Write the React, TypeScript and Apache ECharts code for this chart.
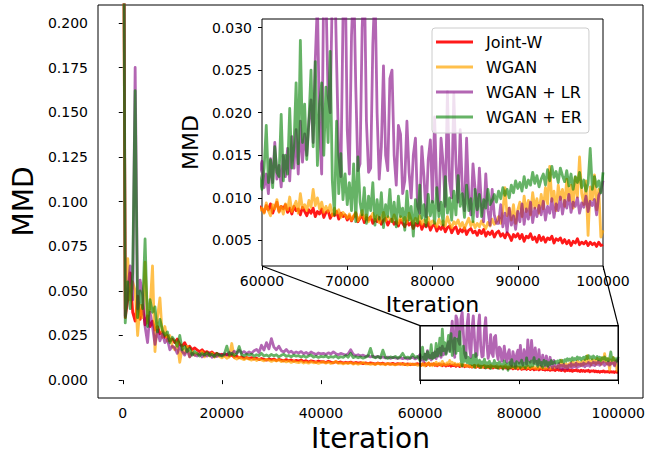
import React, { useEffect, useRef } from "react";
import * as echarts from "echarts";

// Iteration grid: 0..60000 every 500, then 60250..100000 every 250
const ITER_EARLY_STEP = 500;
const ITER_LATE_START = 60250;
const ITER_LATE_STEP = 250;

const seriesNames = ["Joint-W", "WGAN", "WGAN + LR", "WGAN + ER"];
const seriesColors = [
  "rgba(255,0,0,0.9)",
  "rgba(255,165,0,0.7)",
  "rgba(128,0,128,0.6)",
  "rgba(0,128,0,0.6)",
];

const jointWEarly = [
  0.40, 0.035, 0.045, 0.060, 0.038, 0.033, 0.047, 0.034, 0.042, 0.031, 0.036, 0.030, 0.033, 0.028, 0.030, 0.026, 0.027, 0.024, 0.025, 0.022, 0.023,
  0.021, 0.023, 0.020, 0.019, 0.021, 0.018, 0.019, 0.017, 0.018, 0.017,
  0.016, 0.017, 0.0155, 0.016, 0.015, 0.0158, 0.0145, 0.015, 0.014, 0.0145,
  0.0138, 0.0145, 0.0135, 0.014, 0.0128, 0.0135, 0.0125, 0.013, 0.0122, 0.0127,
  0.0120, 0.0126, 0.0118, 0.0123, 0.0115, 0.0121, 0.0117, 0.0112, 0.0119, 0.0114,
  0.0118, 0.0110, 0.0116, 0.0112, 0.0108, 0.0115, 0.0109, 0.0113, 0.0106, 0.0111,
  0.0107, 0.0113, 0.0104, 0.0109, 0.0102, 0.0108, 0.0105, 0.0100, 0.0107, 0.0103,
  0.0104, 0.0099, 0.0106, 0.0101, 0.0097, 0.0103, 0.0098, 0.0102, 0.0096, 0.0100,
  0.0097, 0.0101, 0.0094, 0.0099, 0.0095, 0.0098, 0.0092, 0.0097, 0.0093, 0.0096,
  0.0094, 0.0090, 0.0096, 0.0091, 0.0095, 0.0089, 0.0093, 0.0090, 0.0094, 0.0088,
  0.0092, 0.0089, 0.0093, 0.0087, 0.0091, 0.0086, 0.0090, 0.0088, 0.0092, 0.0087,
];
const jointWLate = [
  0.0083, 0.0091, 0.0086, 0.0093, 0.0082, 0.0089, 0.0095, 0.0084, 0.0090, 0.0087,
  0.0092, 0.0083, 0.0088, 0.0081, 0.0090, 0.0085, 0.0087, 0.0080, 0.0089, 0.0084,
  0.0079, 0.0086, 0.0082, 0.0088, 0.0078, 0.0084, 0.0081, 0.0087, 0.0077, 0.0083,
  0.0085, 0.0076, 0.0081, 0.0079, 0.0084, 0.0075, 0.0082, 0.0078, 0.0080, 0.0074,
  0.0079, 0.0073, 0.0078, 0.0082, 0.0072, 0.0076, 0.0080, 0.0071, 0.0077, 0.0074,
  0.0078, 0.0070, 0.0075, 0.0072, 0.0077, 0.0069, 0.0074, 0.0076, 0.0068, 0.0073,
  0.0075, 0.0069, 0.0072, 0.0067, 0.0074, 0.0070, 0.0066, 0.0073, 0.0068, 0.0071,
  0.0064, 0.0070, 0.0067, 0.0072, 0.0063, 0.0069, 0.0066, 0.0071, 0.0062, 0.0067,
  0.0069, 0.0061, 0.0066, 0.0063, 0.0068, 0.0060, 0.0065, 0.0067, 0.0059, 0.0064,
  0.0066, 0.0058, 0.0063, 0.0060, 0.0065, 0.0057, 0.0062, 0.0064, 0.0059, 0.0061,
  0.0056, 0.0062, 0.0058, 0.0063, 0.0055, 0.0060, 0.0057, 0.0061, 0.0054, 0.0059,
  0.0061, 0.0055, 0.0058, 0.0053, 0.0059, 0.0056, 0.0050, 0.0057, 0.0054, 0.0058,
  0.0052, 0.0057, 0.0049, 0.0055, 0.0053, 0.0058, 0.0051, 0.0054, 0.0048, 0.0056,
  0.0050, 0.0054, 0.0048, 0.0053, 0.0051, 0.0055, 0.0047, 0.0052, 0.0050, 0.0053,
  0.0047, 0.0051, 0.0046, 0.0050, 0.0044, 0.0049, 0.0047, 0.0052, 0.0045, 0.0048,
  0.0046, 0.0049, 0.0044, 0.0048, 0.0045, 0.0047, 0.0043, 0.0048, 0.0044, 0.0045,
];

const wganEarly = [
  0.38, 0.040, 0.068, 0.045, 0.055, 0.050, 0.025, 0.042, 0.035, 0.066, 0.032, 0.040, 0.064, 0.016, 0.035, 0.046, 0.024, 0.030, 0.022, 0.025, 0.019,
  0.017, 0.021, 0.010, 0.018, 0.015, 0.019, 0.013, 0.016, 0.014, 0.015,
  0.0145, 0.016, 0.013, 0.0148, 0.0135, 0.0152, 0.0128, 0.014, 0.0132, 0.0125,
  0.0135, 0.0122, 0.0130, 0.0205, 0.0125, 0.0118, 0.0128, 0.0120, 0.0115, 0.0124,
  0.0117, 0.0112, 0.0120, 0.0110, 0.0118, 0.0113, 0.0108, 0.0116, 0.0111, 0.0105,
  0.0112, 0.0107, 0.0114, 0.0104, 0.0109, 0.0102, 0.0108, 0.0099, 0.0106, 0.0101,
  0.0098, 0.0104, 0.0096, 0.0101, 0.0095, 0.0103, 0.0097, 0.0100, 0.0094, 0.0099,
  0.0102, 0.0095, 0.0100, 0.0093, 0.0098, 0.0105, 0.0094, 0.0097, 0.0091, 0.0096,
  0.0093, 0.0098, 0.0090, 0.0095, 0.0089, 0.0094, 0.0099, 0.0091, 0.0093, 0.0088,
  0.0092, 0.0087, 0.0094, 0.0089, 0.0091, 0.0086, 0.0093, 0.0088, 0.0090, 0.0085,
  0.0089, 0.0093, 0.0086, 0.0091, 0.0084, 0.0092, 0.0087, 0.0090, 0.0083, 0.0088,
];
const wganLate = [
  0.0082, 0.0094, 0.0085, 0.0079, 0.0092, 0.0087, 0.0098, 0.0083, 0.0090, 0.0081,
  0.0093, 0.0086, 0.0101, 0.0084, 0.0090, 0.0096, 0.0082, 0.0105, 0.0088, 0.0092,
  0.0085, 0.0097, 0.0089, 0.0110, 0.0091, 0.0100, 0.0087, 0.0095, 0.0083, 0.0090,
  0.0084, 0.0092, 0.0079, 0.0088, 0.0082, 0.0086, 0.0077, 0.0083, 0.0080, 0.0076,
  0.0081, 0.0074, 0.0079, 0.0083, 0.0073, 0.0078, 0.0085, 0.0075, 0.0080, 0.0072,
  0.0077, 0.0082, 0.0074, 0.0079, 0.0071, 0.0076, 0.0083, 0.0073, 0.0078, 0.0075,
  0.0072, 0.0080, 0.0074, 0.0070, 0.0078, 0.0073, 0.0077, 0.0071, 0.0082, 0.0074,
  0.0070, 0.0076, 0.0072, 0.0079, 0.0069, 0.0074, 0.0071, 0.0077, 0.0068, 0.0073,
  0.0071, 0.0066, 0.0075, 0.0069, 0.0073, 0.0067, 0.0078, 0.0070, 0.0065, 0.0072,
  0.0069, 0.0074, 0.0066, 0.0071, 0.0064, 0.0070, 0.0076, 0.0067, 0.0072, 0.0065,
  0.0070, 0.0066, 0.0073, 0.0068, 0.0064, 0.0071, 0.0067, 0.0075, 0.0069, 0.0072,
  0.0078, 0.0070, 0.0084, 0.0112, 0.0079, 0.0088, 0.0074, 0.0092, 0.0070, 0.0086,
  0.0095, 0.0078, 0.0102, 0.0084, 0.0097, 0.0080, 0.0106, 0.0088, 0.0099, 0.0082,
  0.0104, 0.0087, 0.0112, 0.0093, 0.0137, 0.0096, 0.0108, 0.0085, 0.0115, 0.0098,
  0.0110, 0.0090, 0.0122, 0.0097, 0.0115, 0.0088, 0.0124, 0.0101, 0.0148, 0.0105,
  0.0092, 0.0120, 0.0056, 0.0113, 0.0098, 0.0127, 0.0086, 0.0110, 0.0054, 0.0062,
];

const wganLrEarly = [
  0.45, 0.036, 0.050, 0.064, 0.045, 0.175, 0.040, 0.056, 0.048, 0.030, 0.021, 0.038, 0.030, 0.020, 0.028, 0.022, 0.026, 0.021, 0.023, 0.017, 0.019,
  0.018, 0.015, 0.019, 0.016, 0.014, 0.017, 0.013, 0.015, 0.014, 0.0135,
  0.015, 0.013, 0.0145, 0.0135, 0.015, 0.0128, 0.014, 0.0132, 0.0145, 0.0138,
  0.0148, 0.0140, 0.0155, 0.0145, 0.0162, 0.0150, 0.0168, 0.0152, 0.0160, 0.0148,
  0.0158, 0.0150, 0.0165, 0.0172, 0.0155, 0.0195, 0.0168, 0.0210, 0.0175, 0.0232,
  0.0185, 0.0170, 0.0190, 0.0165, 0.0158, 0.0172, 0.0155, 0.0162, 0.0150, 0.0158,
  0.0152, 0.0160, 0.0148, 0.0155, 0.0145, 0.0158, 0.0150, 0.0143, 0.0152, 0.0147,
  0.0150, 0.0144, 0.0153, 0.0146, 0.0158, 0.0148, 0.0142, 0.0150, 0.0145, 0.0140,
  0.0148, 0.0170, 0.0145, 0.0138, 0.0142, 0.0135, 0.0140, 0.0132, 0.0137, 0.0130,
  0.0134, 0.0128, 0.0133, 0.0126, 0.0130, 0.0124, 0.0129, 0.0122, 0.0127, 0.0125,
  0.0121, 0.0126, 0.0120, 0.0124, 0.0118, 0.0123, 0.0128, 0.0119, 0.0125, 0.0143,
];
const wganLrLate = [
  0.0112, 0.0128, 0.0105, 0.0146, 0.0118, 0.0165, 0.0122, 0.0138, 0.0113, 0.0150,
  0.0125, 0.0158, 0.0120, 0.0172, 0.0135, 0.0180, 0.0128, 0.0190, 0.0142, 0.0175,
  0.0150, 0.0190, 0.0215, 0.0165, 0.0262, 0.0330, 0.0180, 0.0128, 0.0360, 0.0340,
  0.0220, 0.0200, 0.0345, 0.0380, 0.0260, 0.0150, 0.0125, 0.0310, 0.0370, 0.0180,
  0.0128, 0.0290, 0.0360, 0.0230, 0.0132, 0.0140, 0.0300, 0.0365, 0.0190, 0.0130,
  0.0135, 0.0280, 0.0350, 0.0200, 0.0122, 0.0160, 0.0255, 0.0150, 0.0132, 0.0240,
  0.0250, 0.0150, 0.0115, 0.0185, 0.0175, 0.0105, 0.0120, 0.0190, 0.0130, 0.0100,
  0.0150, 0.0170, 0.0090, 0.0082, 0.0160, 0.0125, 0.0078, 0.0145, 0.0168, 0.0095,
  0.0195, 0.0110, 0.0085, 0.0170, 0.0140, 0.0090, 0.0225, 0.0120, 0.0100, 0.0222,
  0.0140, 0.0095, 0.0180, 0.0110, 0.0085, 0.0170, 0.0100, 0.0080, 0.0140, 0.0110,
  0.0078, 0.0135, 0.0090, 0.0072, 0.0128, 0.0085, 0.0068, 0.0110, 0.0080, 0.0070,
  0.0070, 0.0092, 0.0066, 0.0082, 0.0060, 0.0088, 0.0068, 0.0079, 0.0063, 0.0084,
  0.0072, 0.0093, 0.0069, 0.0087, 0.0075, 0.0095, 0.0071, 0.0088, 0.0078, 0.0091,
  0.0080, 0.0096, 0.0074, 0.0090, 0.0082, 0.0099, 0.0077, 0.0093, 0.0085, 0.0101,
  0.0081, 0.0097, 0.0088, 0.0104, 0.0083, 0.0095, 0.0090, 0.0100, 0.0082, 0.0094,
  0.0089, 0.0102, 0.0084, 0.0096, 0.0091, 0.0098, 0.0080, 0.0103, 0.0108, 0.0120,
];

const wganErEarly = [
  0.43, 0.032, 0.055, 0.040, 0.060, 0.162, 0.035, 0.050, 0.040, 0.079, 0.030, 0.045, 0.038, 0.041, 0.027, 0.034, 0.028, 0.025, 0.027, 0.021, 0.024,
  0.022, 0.019, 0.025, 0.017, 0.019, 0.016, 0.018, 0.014, 0.016, 0.015,
  0.0135, 0.015, 0.014, 0.0155, 0.0138, 0.0145, 0.0132, 0.015, 0.0140, 0.0135,
  0.0145, 0.0190, 0.0140, 0.0150, 0.0138, 0.0148, 0.0188, 0.0142, 0.0136, 0.0145,
  0.0139, 0.0146, 0.0134, 0.0142, 0.0137, 0.0150, 0.0135, 0.0141, 0.0133, 0.0144,
  0.0136, 0.0142, 0.0130, 0.0139, 0.0145, 0.0133, 0.0138, 0.0131, 0.0140, 0.0134,
  0.0137, 0.0130, 0.0136, 0.0128, 0.0135, 0.0141, 0.0129, 0.0134, 0.0127, 0.0133,
  0.0130, 0.0136, 0.0126, 0.0132, 0.0128, 0.0135, 0.0124, 0.0131, 0.0127, 0.0138,
  0.0128, 0.0150, 0.0126, 0.0132, 0.0125, 0.0130, 0.0123, 0.0129, 0.0135, 0.0178,
  0.0130, 0.0125, 0.0132, 0.0124, 0.0168, 0.0128, 0.0122, 0.0130, 0.0126, 0.0133,
  0.0124, 0.0131, 0.0150, 0.0125, 0.0129, 0.0122, 0.0145, 0.0127, 0.0133, 0.0110,
];
const wganErLate = [
  0.0135, 0.0185, 0.0118, 0.0145, 0.0112, 0.0160, 0.0130, 0.0125, 0.0198, 0.0120,
  0.0150, 0.0128, 0.0205, 0.0135, 0.0160, 0.0235, 0.0140, 0.0285, 0.0165, 0.0210,
  0.0145, 0.0190, 0.0250, 0.0160, 0.0260, 0.0138, 0.0210, 0.0235, 0.0150, 0.0230,
  0.0165, 0.0272, 0.0120, 0.0080, 0.0190, 0.0105, 0.0152, 0.0098, 0.0128, 0.0092,
  0.0118, 0.0085, 0.0140, 0.0072, 0.0148, 0.0095, 0.0080, 0.0112, 0.0070, 0.0102,
  0.0085, 0.0118, 0.0068, 0.0098, 0.0075, 0.0106, 0.0065, 0.0092, 0.0078, 0.0110,
  0.0072, 0.0095, 0.0066, 0.0102, 0.0078, 0.0088, 0.0062, 0.0108, 0.0074, 0.0090,
  0.0055, 0.0098, 0.0070, 0.0115, 0.0076, 0.0092, 0.0067, 0.0104, 0.0079, 0.0096,
  0.0070, 0.0112, 0.0078, 0.0095, 0.0068, 0.0125, 0.0082, 0.0100, 0.0074, 0.0108,
  0.0080, 0.0126, 0.0090, 0.0105, 0.0077, 0.0115, 0.0085, 0.0099, 0.0072, 0.0110,
  0.0086, 0.0104, 0.0078, 0.0098, 0.0088, 0.0110, 0.0092, 0.0097, 0.0104, 0.0095,
  0.0108, 0.0099, 0.0112, 0.0103, 0.0110, 0.0100, 0.0115, 0.0106, 0.0120, 0.0111,
  0.0118, 0.0108, 0.0125, 0.0112, 0.0121, 0.0115, 0.0130, 0.0117, 0.0126, 0.0113,
  0.0122, 0.0128, 0.0115, 0.0133, 0.0120, 0.0137, 0.0124, 0.0131, 0.0118, 0.0135,
  0.0126, 0.0119, 0.0132, 0.0114, 0.0128, 0.0110, 0.0125, 0.0118, 0.0130, 0.0112,
  0.0121, 0.0108, 0.0117, 0.0158, 0.0110, 0.0125, 0.0113, 0.0120, 0.0106, 0.0130,
];

const mainXTicks = [0, 20000, 40000, 60000, 80000, 100000];
const mainYTicks = [0, 0.025, 0.05, 0.075, 0.1, 0.125, 0.15, 0.175, 0.2];
const insetYTicks = [0.005, 0.01, 0.015, 0.02, 0.025, 0.03];

const mainXRange = [-5000, 105000];
const mainYRange = [-0.01, 0.21];
const insetXRange = [60000, 100000];
const insetYRange = [0.002, 0.031];
// zoom box drawn on the main axes
const zoomBoxY = [0.0, 0.0305];

const FONT = "DejaVu Sans";

function toPairs(early: number[], late: number[]) {
  const out: number[][] = [];
  early.forEach((v, i) => out.push([i * ITER_EARLY_STEP, v]));
  late.forEach((v, i) => out.push([ITER_LATE_START + i * ITER_LATE_STEP, v]));
  return out;
}

const allSeries = [
  toPairs(jointWEarly, jointWLate),
  toPairs(wganEarly, wganLate),
  toPairs(wganLrEarly, wganLrLate),
  toPairs(wganErEarly, wganErLate),
];

export default function App() {
  const ref = useRef<HTMLDivElement>(null);
  useEffect(() => {
    document.body.style.margin = "0";
    if (!ref.current) return;
    const chart = echarts.init(ref.current, undefined, { renderer: "svg" });

    const tickStyle = { show: true, inside: false, length: 4, lineStyle: { color: "#000", width: 1 } };
    const labelBase = { color: "#000", fontFamily: FONT, fontSize: 14 };

    const mkSeries = (gridIdx: number, z: number) =>
      allSeries.map((data, k) => ({
        type: "line",
        name: seriesNames[k],
        xAxisIndex: gridIdx,
        yAxisIndex: gridIdx,
        data,
        showSymbol: false,
        symbol: "none",
        silent: true,
        clip: true,
        z,
        color: seriesColors[k],
        itemStyle: { color: seriesColors[k] },
        lineStyle: { color: seriesColors[k], width: 2.8, join: "round" },
      }));

    const option: any = {
      animation: false,
      backgroundColor: "#fff",
      textStyle: { fontFamily: FONT },
      grid: [
        { left: 98, top: 5, right: 5, bottom: 61, show: true, borderColor: "#000", borderWidth: 1, backgroundColor: "transparent", z: 0 },
        { left: 262, top: 19, width: 341, height: 247, show: true, borderColor: "#000", borderWidth: 1, backgroundColor: "#fff", z: 5 },
      ],
      xAxis: [
        {
          type: "value", gridIndex: 0, min: mainXRange[0], max: mainXRange[1],
          splitLine: { show: false }, axisLine: { show: false },
          axisTick: { ...tickStyle, customValues: mainXTicks },
          axisLabel: { ...labelBase, margin: 8, customValues: mainXTicks, formatter: (v: number) => String(v) },
          name: "Iteration", nameLocation: "middle", nameGap: 25,
          nameTextStyle: { color: "#000", fontFamily: FONT, fontSize: 28 },
        },
        {
          type: "value", gridIndex: 1, min: insetXRange[0], max: insetXRange[1], interval: 10000, z: 6,
          splitLine: { show: false }, axisLine: { show: false },
          axisTick: tickStyle,
          axisLabel: { ...labelBase, margin: 8, formatter: (v: number) => String(v) },
          name: "Iteration", nameLocation: "middle", nameGap: 27,
          nameTextStyle: { color: "#000", fontFamily: FONT, fontSize: 22 },
        },
      ],
      yAxis: [
        {
          type: "value", gridIndex: 0, min: mainYRange[0], max: mainYRange[1],
          splitLine: { show: false }, axisLine: { show: false },
          axisTick: { ...tickStyle, customValues: mainYTicks },
          axisLabel: { ...labelBase, margin: 10, customValues: mainYTicks, formatter: (v: number) => v.toFixed(3) },
          name: "MMD", nameLocation: "middle", nameGap: 58, nameRotate: 90,
          nameTextStyle: { color: "#000", fontFamily: FONT, fontSize: 28 },
        },
        {
          type: "value", gridIndex: 1, min: insetYRange[0], max: insetYRange[1], z: 6,
          splitLine: { show: false }, axisLine: { show: false },
          axisTick: { ...tickStyle, customValues: insetYTicks },
          axisLabel: { ...labelBase, margin: 10, customValues: insetYTicks, formatter: (v: number) => v.toFixed(3) },
          name: "MMD", nameLocation: "middle", nameGap: 57, nameRotate: 90,
          nameTextStyle: { color: "#000", fontFamily: FONT, fontSize: 22 },
        },
      ],
      legend: {
        show: true,
        left: 432,
        top: 28,
        orient: "vertical",
        selectedMode: false,
        z: 20,
        padding: [5, 7, 7, 4],
        itemGap: 7,
        itemWidth: 37,
        itemHeight: 3,
        backgroundColor: "rgba(255,255,255,0.8)",
        borderColor: "#cccccc",
        borderWidth: 1,
        borderRadius: 3,
        textStyle: { color: "#000", fontFamily: FONT, fontSize: 16, lineHeight: 18, padding: [0, 0, 0, 8] },
        data: seriesNames.map((n) => ({ name: n, icon: "rect" })),
      },
      series: [...mkSeries(0, 2), ...mkSeries(1, 10)],
    };
    chart.setOption(option);

    const rectTL = chart.convertToPixel({ gridIndex: 0 } as any, [insetXRange[0], zoomBoxY[1]]) as number[];
    const rectBR = chart.convertToPixel({ gridIndex: 0 } as any, [insetXRange[1], zoomBoxY[0]]) as number[];
    const insetBL = chart.convertToPixel({ gridIndex: 1 } as any, [insetXRange[0], insetYRange[0]]) as number[];
    const insetBR = chart.convertToPixel({ gridIndex: 1 } as any, [insetXRange[1], insetYRange[0]]) as number[];
    const lineStyle = { stroke: "#000", lineWidth: 1.2 };
    chart.setOption({
      graphic: [
        {
          type: "rect", z: 15, silent: true,
          shape: { x: rectTL[0], y: rectTL[1], width: rectBR[0] - rectTL[0], height: rectBR[1] - rectTL[1] },
          style: { fill: "none", stroke: "#000", lineWidth: 1.5 },
        },
        { type: "line", z: 15, silent: true, shape: { x1: insetBL[0], y1: insetBL[1], x2: rectTL[0], y2: rectTL[1] }, style: lineStyle },
        { type: "line", z: 15, silent: true, shape: { x1: insetBR[0], y1: insetBR[1], x2: rectBR[0], y2: rectTL[1] }, style: lineStyle },
      ],
    });

    return () => chart.dispose();
  }, []);
  return <div ref={ref} style={{ width: 648, height: 459 }} />;
}
